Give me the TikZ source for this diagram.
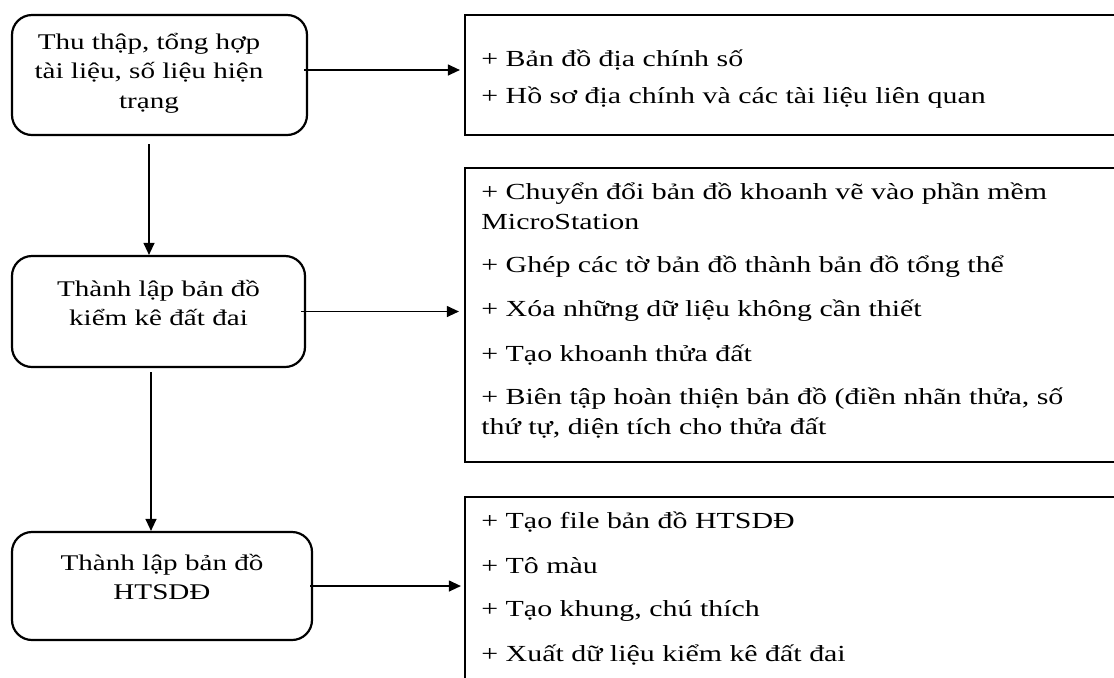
\documentclass[tikz,border=0pt]{standalone}
\usepackage{fontspec}
\setmainfont[FakeStretch=1.3]{Liberation Serif}
\usetikzlibrary{arrows.meta}
\begin{document}
\begin{tikzpicture}[x=0.5pt,y=-0.5pt]
			\tikzstyle{BUOC}=[draw=black,line width=1.1pt,rounded corners=10pt]
			\tikzstyle{CHU}=[align=center,inner sep=0pt,font=\fontsize{11.2}{14.75}\selectfont]
			\tikzstyle{KQ}=[draw=black,line width=1.1pt,minimum width=330pt]
			\tikzstyle{DONG}=[anchor=base west,align=left,inner sep=0pt,font=\fontsize{11.5}{15}\selectfont]
			\tikzstyle{MUI}=[-{Triangle[length=6pt,width=5.5pt]},line width=0.6pt]
			\useasboundingbox (0,0) rectangle (1114,677);
			\clip (0,0) rectangle (1114,677);
			\begin{scope}
			\node[BUOC,minimum width=147.5pt,minimum height=60pt] (B1) at (159.5,75)  {};
			\node[BUOC,minimum width=146.5pt,minimum height=55.5pt] (B2) at (158.5,311.5) {};
			\node[BUOC,minimum width=150pt,minimum height=54pt] (B3) at (162,586) {};
			
			\node[CHU] (T1) at (149,73)  {Thu thập, tổng hợp\\tài liệu, số liệu hiện\\trạng};
			\node[CHU] (T2) at (158.5,303) {Thành lập bản đồ\\kiểm kê đất đai};
			\node[CHU] (T3) at (162,577) {Thành lập bản đồ\\HTSDĐ};
			
			\node[KQ,minimum height=60pt] (R1) at (795,75)  {};
			\node[KQ,minimum height=147pt] (R2) at (795,315) {};
			\node[KQ,minimum height=111.5pt] (R3) at (795,608.5) {};
			
			\node[DONG] (R1-1) at (481,66)  {+ Bản đồ địa chính số};
			\node[DONG] (R1-2) at (481,103) {+ Hồ sơ địa chính và các tài liệu liên quan};
			
			\node[DONG] (R2-1) at (481,229) {+ Chuyển đổi bản đồ khoanh vẽ vào phần mềm\\MicroStation};
			\node[DONG] (R2-2) at (481,272) {+ Ghép các tờ bản đồ thành bản đồ tổng thể};
			\node[DONG] (R2-3) at (481,316) {+ Xóa những dữ liệu không cần thiết};
			\node[DONG] (R2-4) at (481,361) {+ Tạo khoanh thửa đất};
			\node[DONG] (R2-5) at (481,434) {+ Biên tập hoàn thiện bản đồ (điền nhãn thửa, số\\thứ tự, diện tích cho thửa đất};
			
			\node[DONG] (R3-1) at (481,528) {+ Tạo file bản đồ HTSDĐ};
			\node[DONG] (R3-2) at (481,573) {+ Tô màu};
			\node[DONG] (R3-3) at (481,616) {+ Tạo khung, chú thích};
			\node[DONG] (R3-4) at (481,661) {+ Xuất dữ liệu kiểm kê đất đai};
			\end{scope}
			
			\draw[MUI] ([xshift=-2pt,yshift=2.5pt]B1.east) -- ([xshift=-2pt,yshift=2.5pt]B1.east -| R1.west);
			\draw[MUI] ([xshift=-2.5pt]B2.east) -- ([xshift=-2.5pt]B2.east -| R2.west);
			\draw[MUI] ([xshift=-1.5pt]B3.east) -- ([xshift=-1.5pt]B3.east -| R3.west);
			
			\draw[MUI] ([xshift=-5.25pt,yshift=-4pt]B1.south) -- ([xshift=-4.75pt]B2.north);
			\draw[MUI] ([xshift=-3.75pt,yshift=-2pt]B2.south) -- ([xshift=-5.5pt]B3.north);
		\end{tikzpicture}
\end{document}
